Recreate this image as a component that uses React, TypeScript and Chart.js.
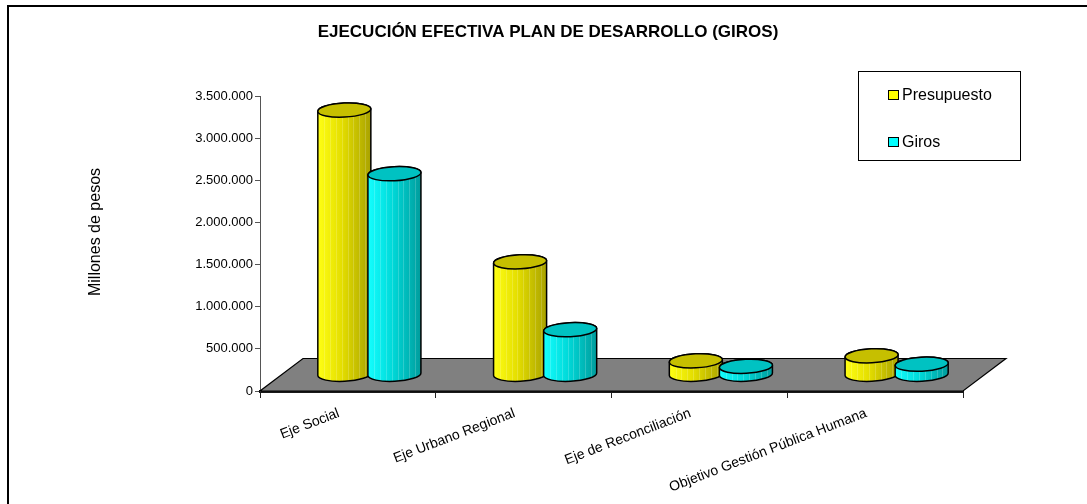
import React, { useEffect, useRef } from "react";
import { Chart, registerables } from "chart.js";

Chart.register(...registerables);

// ---- data ----
const categories = [
  "Eje Social",
  "Eje Urbano Regional",
  "Eje de Reconciliación",
  "Objetivo Gestión Pública Humana",
];
const presupuesto = [3140000, 1340000, 165000, 225000];
const giros = [2385000, 535000, 100000, 125000];
const seriesLabels = ["Presupuesto", "Giros"];
const seriesColors = ["#FFFF00", "#00FFFF"];
const yMin = 0;
const yMax = 3500000;
const yStep = 500000;
const chartTitle = "EJECUCIÓN EFECTIVA PLAN DE DESARROLLO (GIROS)";
const yAxisTitle = "Millones de pesos";

// ---- style ----
const FONT = "Arial, 'Liberation Sans', sans-serif";
const DEPTH_X = 43;
const DEPTH_Y = -32.5;
const ELLIPSE_RY = 7;
const TILT = -0.05;

const shades: Record<string, { light: string; mid: string; dark: string; top: string }> = {
  "#FFFF00": { light: "#FFFF14", mid: "#E4DE00", dark: "#A9A200", top: "#C6BF00" },
  "#00FFFF": { light: "#14FFFF", mid: "#00DADA", dark: "#009C9C", top: "#00C2C2" },
};

function fmt(v: number): string {
  return String(Math.round(v)).replace(/\B(?=(\d{3})+(?!\d))/g, ".");
}

function drawCylinder(
  ctx: CanvasRenderingContext2D,
  cx: number,
  yTop: number,
  yBot: number,
  w: number,
  color: string
) {
  const s = shades[color];
  const rx = w / 2;
  const ry = ELLIPSE_RY;
  const g = ctx.createLinearGradient(cx - rx, 0, cx + rx, 0);
  g.addColorStop(0, s.light);
  g.addColorStop(0.45, s.mid);
  g.addColorStop(1, s.dark);

  // body
  ctx.beginPath();
  ctx.ellipse(cx, yBot, rx, ry, TILT, Math.PI, 0, true);
  ctx.ellipse(cx, yTop, rx, ry, TILT, 0, Math.PI, true);
  ctx.closePath();
  ctx.fillStyle = g;
  ctx.fill();

  // subtle vertical stripes
  ctx.save();
  ctx.clip();
  ctx.globalAlpha = 0.18;
  ctx.strokeStyle = "#ffffff";
  ctx.lineWidth = 1;
  for (let k = 0.12; k < 0.95; k += 0.11) {
    const xx = Math.round(cx - rx + k * w) + 0.5;
    ctx.beginPath();
    ctx.moveTo(xx, yTop - ry - 2);
    ctx.lineTo(xx, yBot + ry + 2);
    ctx.stroke();
  }
  ctx.restore();

  // outline of body
  ctx.beginPath();
  ctx.ellipse(cx, yBot, rx, ry, TILT, Math.PI, 0, true);
  ctx.ellipse(cx, yTop, rx, ry, TILT, 0, Math.PI, true);
  ctx.closePath();
  ctx.strokeStyle = "#000";
  ctx.lineWidth = 1.5;
  ctx.stroke();

  // top
  ctx.beginPath();
  ctx.ellipse(cx, yTop, rx, ry, TILT, 0, Math.PI * 2);
  ctx.fillStyle = s.top;
  ctx.fill();
  ctx.stroke();
}

const cylinderPlugin = {
  id: "cylinders3d",
  beforeDraw(chart: any) {
    const { ctx } = chart;
    ctx.save();
    // frame
    ctx.strokeStyle = "#000";
    ctx.lineWidth = 2;
    ctx.strokeRect(8, 6, 1200, 700);
    // title
    ctx.fillStyle = "#000";
    ctx.font = `bold 17px ${FONT}`;
    ctx.textAlign = "center";
    ctx.textBaseline = "middle";
    ctx.fillText(chartTitle, 548, 32);
    // y title
    ctx.save();
    ctx.translate(95.5, 232);
    ctx.rotate(-Math.PI / 2);
    ctx.font = `16px ${FONT}`;
    ctx.fillText(yAxisTitle, 0, 0);
    ctx.restore();
    // legend
    ctx.lineWidth = 1;
    ctx.strokeStyle = "#000";
    ctx.strokeRect(858.5, 71.5, 162, 89);
    chart.data.datasets.forEach((ds: any, i: number) => {
      const yy = 90 + i * 47;
      ctx.fillStyle = ds.backgroundColor;
      ctx.fillRect(888.5, yy + 0.5, 10, 9);
      ctx.strokeRect(888.5, yy + 0.5, 10, 9);
      ctx.fillStyle = "#000";
      ctx.font = `16px ${FONT}`;
      ctx.textAlign = "left";
      ctx.textBaseline = "middle";
      ctx.fillText(ds.label, 902, yy + 5.5);
    });
    ctx.restore();
  },
  beforeDatasetsDraw(chart: any) {
    const { ctx } = chart;
    const xs = chart.scales.x;
    const ys = chart.scales.y;
    const y0 = ys.getPixelForValue(0);
    ctx.save();
    // floor
    ctx.beginPath();
    ctx.moveTo(xs.left, y0);
    ctx.lineTo(xs.right, y0);
    ctx.lineTo(xs.right + DEPTH_X, y0 + DEPTH_Y);
    ctx.lineTo(xs.left + DEPTH_X, y0 + DEPTH_Y);
    ctx.closePath();
    ctx.fillStyle = "#808080";
    ctx.fill();
    ctx.strokeStyle = "#000";
    ctx.lineWidth = 1.2;
    ctx.stroke();

    const n = chart.data.labels.length;
    for (let i = 0; i < n; i++) {
      chart.data.datasets.forEach((ds: any, d: number) => {
        const el = chart.getDatasetMeta(d).data[i];
        if (!el) return;
        const cx = el.x + DEPTH_X / 2;
        const yTop = el.y + DEPTH_Y / 2;
        const yBot = el.base + DEPTH_Y / 2;
        drawCylinder(ctx, cx, yTop, yBot, el.width, ds.backgroundColor);
      });
    }
    ctx.restore();
    return false;
  },
};

export default function App() {
  const ref = useRef<HTMLCanvasElement | null>(null);
  useEffect(() => {
    if (!ref.current) return;
    Chart.defaults.font.family = FONT;
    Chart.defaults.color = "#000";
    const chart = new Chart(ref.current, {
      type: "bar",
      data: {
        labels: categories,
        datasets: [
          { label: seriesLabels[0], data: presupuesto, backgroundColor: seriesColors[0] },
          { label: seriesLabels[1], data: giros, backgroundColor: seriesColors[1] },
        ],
      },
      options: {
        responsive: false,
        animation: false,
        devicePixelRatio: 1,
        layout: { padding: { left: 0, top: 96, right: 124, bottom: 0 } },
        datasets: { bar: { categoryPercentage: 0.57, barPercentage: 1.06 } },
        plugins: { legend: { display: false }, title: { display: false }, tooltip: { enabled: false } },
        scales: {
          x: {
            z: 1,
            offset: true,
            grid: { offset: true, drawOnChartArea: false, drawTicks: true, tickLength: 7, color: "#222", lineWidth: 1 },
            border: { display: true, color: "#1a1a1a", width: 3 },
            ticks: {
              autoSkip: false,
              minRotation: 21,
              maxRotation: 21,
              labelOffset: -9,
              padding: 7,
              font: { size: 14 },
              color: "#000",
            },
            afterFit: (s: any) => {
              s.height = 113;
            },
          },
          y: {
            min: yMin,
            max: yMax,
            grid: { drawOnChartArea: false, drawTicks: true, tickLength: 5, color: "#555" },
            border: { display: true, color: "#555", width: 1 },
            ticks: {
              stepSize: yStep,
              padding: 2,
              font: { size: 13 },
              color: "#000",
              callback: (v: any) => fmt(Number(v)),
            },
            afterFit: (s: any) => {
              s.width = 260;
            },
          },
        },
      },
      plugins: [cylinderPlugin],
    } as any);
    return () => chart.destroy();
  }, []);
  return (
    <div style={{ position: "fixed", left: 0, top: 0, width: 1087, height: 504, background: "#fff" }}>
      <canvas ref={ref} width={1087} height={504} style={{ display: "block" }} />
    </div>
  );
}
